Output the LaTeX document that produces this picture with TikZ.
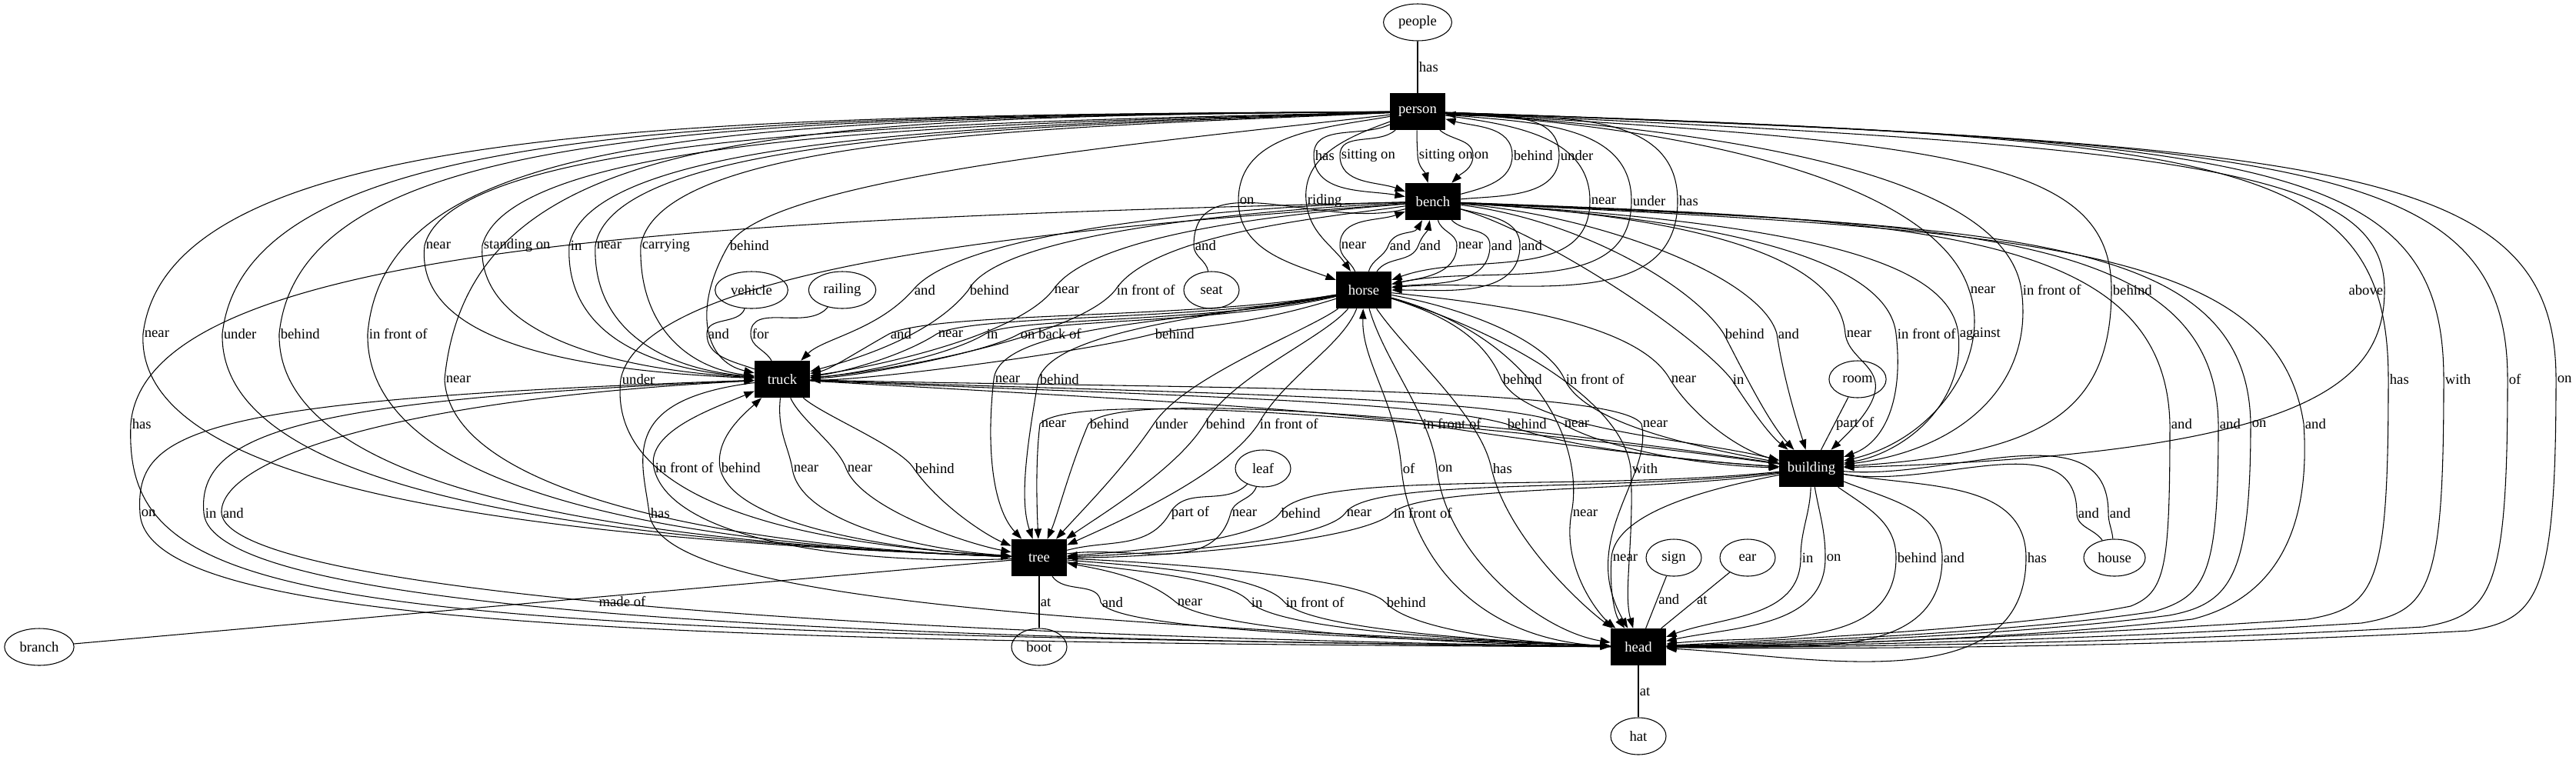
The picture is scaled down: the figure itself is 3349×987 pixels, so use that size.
\documentclass[tikz,border=0pt]{standalone}
\usepackage{fontspec}
\setmainfont{Liberation Serif}
\usetikzlibrary{shapes.geometric,arrows.meta}
\begin{document}
\begin{tikzpicture}[x=0.75bp,y=0.75bp,
  every node/.style={font=\fontsize{14bp}{16bp}\selectfont},
  bx/.style={rectangle,fill=black,text=white,minimum width=54bp,minimum height=36bp,inner xsep=8bp,inner ysep=2bp},
  el/.style={ellipse,draw,line width=0.8bp,minimum width=54bp,minimum height=36bp,inner sep=4.9bp},
  ar/.style={draw,line width=0.8bp,-{Triangle[length=10bp,width=7bp]}},
  ln/.style={draw,line width=0.8bp},
  lab/.style={right,inner sep=1bp,text=black}]
\useasboundingbox (0,0) rectangle (3349,-987);
% nodes
\node[el] (people) at (1843,-29) {people};
\node[bx] (person) at (1843,-145) {person};
\node[bx] (bench) at (1863,-262) {bench};
\node[bx] (horse) at (1773,-377) {horse};
\node[el] (seat) at (1575,-377) {seat};
\node[el] (vehicle) at (977,-377) {vehicle};
\node[el] (railing) at (1095,-377) {railing};
\node[bx] (truck) at (1017,-493) {truck};
\node[el] (room) at (2415,-493) {room};
\node[bx] (building) at (2355,-609) {building};
\node[el] (leaf) at (1642,-609) {leaf};
\node[bx] (tree) at (1351,-725) {tree};
\node[el] (sign) at (2176,-725) {sign};
\node[el] (ear) at (2272,-725) {ear};
\node[el] (house) at (2749,-725) {house};
\node[bx] (head) at (2130,-841) {head};
\node[el] (branch) at (51,-841) {branch};
\node[el] (boot) at (1351,-841) {boot};
\node[el] (hat) at (2130,-957) {hat};
% people - person
\draw[ln] (people) -- node[lab,pos=.5]{has} (person);
% person -> bench
\draw[ar] (person) to[out=205,in=90] (1708,-202) node[lab]{has} to[out=270,in=170] (bench);
\draw[ar] (person) to[out=220,in=90] (1742,-202) node[lab]{sitting on} to[out=270,in=160] (bench);
\draw[ar] (person) to[out=268,in=92] (1843,-202) node[lab]{sitting on} to[out=272,in=105] (bench);
\draw[ar] (person) to[out=-40,in=90] (1915,-202) node[lab]{on} to[out=270,in=45] (bench);
\draw[ar] (bench) to[out=15,in=270] (1966,-202) node[lab]{behind} to[out=90,in=-15] (person);
\draw[ar] (bench) to[out=5,in=270] (2027,-202) node[lab]{under} to[out=90,in=-5] (person);
% person -> horse
\draw[ar] (person) to[out=190,in=90] (1610,-261) node[lab]{on} to[out=270,in=160] (horse);
\draw[ar] (person) to[out=200,in=95] (1698,-261) node[lab]{riding} to[out=275,in=125] (horse);
\draw[ar] (person) to[out=-8,in=90] (2067,-261) node[lab]{near} to[out=270,in=20] (horse);
\draw[ar] (person) to[out=-6,in=90] (2121,-261) node[lab]{under} to[out=270,in=12] (horse);
\draw[ar] (person) to[out=-4,in=90] (2181,-261) node[lab]{has} to[out=270,in=5] (horse);
% person -> truck (left loops)
\draw[ar] (person) .. controls (1300,-158) and (592,-165) .. (552,-319) node[lab]{near} .. controls (540,-430) and (700,-480) .. (truck);
\draw[ar] (person) .. controls (1320,-160) and (667,-168) .. (627,-319) node[lab]{standing on} .. controls (620,-420) and (760,-478) .. (truck);
\draw[ar] (person) .. controls (1340,-162) and (770,-170) .. (740,-319) node[lab]{in} .. controls (735,-420) and (820,-478) .. (truck);
\draw[ar] (person) .. controls (1360,-164) and (800,-172) .. (774,-319) node[lab]{near} .. controls (770,-420) and (850,-478) .. (truck);
\draw[ar] (person) .. controls (1380,-166) and (860,-175) .. (833,-319) node[lab]{carrying} .. controls (830,-420) and (890,-478) .. (truck);
\draw[ar] (person) .. controls (1500,-185) and (1000,-230) .. (947,-319) node[lab]{behind} .. controls (900,-400) and (915,-470) .. (truck);
% person -> tree (far left loops)
\draw[ar] (person) .. controls (900,-150) and (220,-160) .. (186,-434) node[lab]{near} .. controls (175,-640) and (700,-700) .. (tree);
\draw[ar] (person) .. controls (920,-151) and (320,-162) .. (289,-434) node[lab]{under} .. controls (285,-640) and (760,-702) .. (tree);
\draw[ar] (person) .. controls (940,-152) and (390,-165) .. (363,-434) node[lab]{behind} .. controls (360,-640) and (820,-705) .. (tree);
\draw[ar] (person) .. controls (960,-153) and (500,-168) .. (478,-434) node[lab]{in front of} .. controls (475,-640) and (880,-708) .. (tree);
\draw[ar] (person) .. controls (1000,-152) and (610,-170) .. (578,-493) node[lab]{near} .. controls (585,-640) and (940,-710) .. (tree);
% bench -> tree
\draw[ar] (bench) .. controls (1500,-290) and (840,-330) .. (807,-493) node[lab]{under} .. controls (790,-640) and (1000,-705) .. (tree);
% horse -> tree
\draw[ar] (horse) .. controls (1550,-420) and (1300,-420) .. (1292,-493) node[lab]{near} .. controls (1282,-580) and (1290,-660) .. (tree);
\draw[ar] (horse) .. controls (1580,-410) and (1370,-430) .. (1350,-493) node[lab]{behind} .. controls (1335,-580) and (1325,-650) .. (tree);
\draw[ar] (horse) .. controls (1700,-430) and (1540,-490) .. (1500,-551) node[lab]{under} .. controls (1460,-610) and (1410,-660) .. (tree);
\draw[ar] (horse) .. controls (1720,-440) and (1600,-490) .. (1566,-551) node[lab]{behind} .. controls (1530,-610) and (1430,-670) .. (tree);
\draw[ar] (horse) .. controls (1745,-450) and (1670,-490) .. (1636,-551) node[lab]{in front of} .. controls (1590,-620) and (1450,-680) .. (tree);
% building -> tree (through 551)
\draw[ar] (building) .. controls (2000,-560) and (1400,-500) .. (1352,-551) node[lab]{near} .. controls (1346,-600) and (1348,-660) .. (tree);
\draw[ar] (building) .. controls (2000,-555) and (1460,-500) .. (1415,-551) node[lab]{behind} .. controls (1390,-610) and (1375,-670) .. (tree);
% bench -> truck
\draw[ar] (bench) .. controls (1600,-268) and (1250,-300) .. (1187,-377) node[lab]{and} .. controls (1140,-430) and (1070,-440) .. (truck);
\draw[ar] (bench) .. controls (1650,-272) and (1300,-300) .. (1259,-377) node[lab]{behind} .. controls (1210,-440) and (1100,-470) .. (truck);
\draw[ar] (bench) .. controls (1700,-276) and (1420,-300) .. (1369,-377) node[lab]{near} .. controls (1320,-440) and (1120,-480) .. (truck);
\draw[ar] (bench) .. controls (1750,-280) and (1500,-300) .. (1450,-377) node[lab]{in front of} .. controls (1400,-440) and (1140,-485) .. (truck);
% horse -> truck
\draw[ar] (horse) .. controls (1550,-415) and (1220,-405) .. (1156,-434) node[lab]{and} .. controls (1110,-460) and (1080,-480) .. (truck);
\draw[ar] (horse) .. controls (1560,-418) and (1270,-408) .. (1218,-434) node[lab]{near} .. controls (1170,-465) and (1090,-485) .. (truck);
\draw[ar] (horse) .. controls (1570,-420) and (1320,-412) .. (1281,-434) node[lab]{in} .. controls (1230,-465) and (1100,-488) .. (truck);
\draw[ar] (horse) .. controls (1580,-422) and (1360,-414) .. (1325,-434) node[lab]{on back of} .. controls (1280,-460) and (1110,-490) .. (truck);
\draw[ar] (horse) .. controls (1620,-425) and (1540,-425) .. (1500,-434) node[lab]{behind} .. controls (1400,-460) and (1120,-495) .. (truck);
% attribute nodes near truck / bench
\draw[ln] (vehicle) to[out=250,in=90] (919,-434) node[lab]{and} to[out=270,in=160] (truck);
\draw[ln] (railing) to[out=230,in=90] (976,-434) node[lab]{for} to[out=270,in=120] (truck);
\draw[ln] (seat) to[out=100,in=270] (1552,-319) node[lab]{and} to[out=90,in=195] (bench);
% bench <-> horse
\draw[ar] (horse) to[out=115,in=270] (1742,-319) node[lab]{near} to[out=90,in=200] (bench);
\draw[ar] (horse) to[out=75,in=250] (1805,-319) node[lab]{and} to[out=70,in=240] (bench);
\draw[ar] (horse) to[out=55,in=250] (1844,-319) node[lab]{and} to[out=70,in=260] (bench);
\draw[ar] (bench) to[out=-75,in=90] (1894,-319) node[lab]{near} to[out=270,in=12] (horse);
\draw[ar] (bench) to[out=-45,in=90] (1937,-319) node[lab]{and} to[out=270,in=6] (horse);
\draw[ar] (bench) to[out=-15,in=90] (1976,-319) node[lab]{and} to[out=270,in=0] (horse);
% bench -> building
\draw[ar] (bench) .. controls (2050,-285) and (2200,-370) .. (2241,-434) node[lab]{behind} .. controls (2270,-490) and (2300,-550) .. (building);
\draw[ar] (bench) .. controls (2080,-280) and (2290,-360) .. (2310,-434) node[lab]{and} .. controls (2320,-500) and (2340,-560) .. (building);
\draw[ar] (bench) .. controls (2150,-278) and (2390,-320) .. (2399,-434) node[lab]{near} .. controls (2405,-480) and (2490,-480) .. (building);
\draw[ar] (bench) .. controls (2250,-285) and (2455,-340) .. (2465,-434) node[lab]{in front of} .. controls (2475,-520) and (2450,-575) .. (building);
\draw[ar] (bench) .. controls (2350,-290) and (2535,-340) .. (2546,-434) node[lab]{against} .. controls (2555,-530) and (2470,-590) .. (building);
\draw[ar] (bench) .. controls (2000,-300) and (2200,-430) .. (2251,-493) node[lab]{in} .. controls (2275,-530) and (2300,-565) .. (building);
% bench -> head (right)
\draw[ar] (bench) .. controls (2500,-285) and (2815,-300) .. (2821,-551) node[lab]{and} .. controls (2821,-740) and (2815,-770) .. (2770,-788) .. controls (2650,-812) and (2400,-828) .. (head);
\draw[ar] (bench) .. controls (2550,-290) and (2880,-300) .. (2884,-551) node[lab]{and} .. controls (2884,-745) and (2870,-775) .. (2800,-795) .. controls (2650,-818) and (2400,-832) .. (head);
\draw[ar] (bench) .. controls (2600,-295) and (2922,-300) .. (2926,-551) node[lab]{on} .. controls (2926,-750) and (2900,-785) .. (2820,-800) .. controls (2650,-822) and (2400,-835) .. (head);
\draw[ar] (bench) .. controls (2650,-300) and (2960,-320) .. (2995,-551) node[lab]{and} .. controls (3005,-700) and (2950,-780) .. (2850,-805) .. controls (2650,-828) and (2400,-838) .. (head);
% person -> building (right)
\draw[ar] (person) .. controls (2250,-170) and (2520,-250) .. (2560,-377) node[lab]{near} .. controls (2590,-460) and (2520,-570) .. (building);
\draw[ar] (person) .. controls (2350,-175) and (2610,-250) .. (2628,-377) node[lab]{in front of} .. controls (2645,-500) and (2550,-585) .. (building);
\draw[ar] (person) .. controls (2550,-185) and (2745,-210) .. (2745,-377) node[lab]{behind} .. controls (2745,-540) and (2650,-590) .. (building);
\draw[ar] (person) .. controls (2850,-190) and (3100,-220) .. (3100,-377) node[lab,left]{above} .. controls (3100,-500) and (3000,-590) .. (building);
% person -> head (right loops)
\draw[ar] (person) .. controls (2900,-180) and (3105,-200) .. (3105,-493) node[lab]{has} .. controls (3105,-760) and (3090,-790) .. (3000,-805) .. controls (2700,-825) and (2400,-838) .. (head);
\draw[ar] (person) .. controls (2950,-182) and (3177,-205) .. (3177,-493) node[lab]{with} .. controls (3177,-765) and (3160,-795) .. (3070,-810) .. controls (2750,-830) and (2400,-840) .. (head);
\draw[ar] (person) .. controls (3000,-185) and (3260,-210) .. (3260,-493) node[lab]{of} .. controls (3260,-770) and (3240,-800) .. (3150,-815) .. controls (2800,-835) and (2400,-842) .. (head);
\draw[ar] (person) .. controls (3050,-188) and (3323,-215) .. (3323,-493) node[lab]{on} .. controls (3323,-775) and (3300,-805) .. (3210,-820) .. controls (2850,-840) and (2400,-845) .. (head);
% horse -> building
\draw[ar] (horse) .. controls (1880,-410) and (1930,-440) .. (1952,-493) node[lab]{behind} .. controls (1985,-560) and (2200,-570) .. (building);
\draw[ar] (horse) .. controls (1900,-400) and (2010,-440) .. (2034,-493) node[lab]{in front of} .. controls (2060,-550) and (2200,-580) .. (building);
\draw[ar] (horse) .. controls (1950,-395) and (2130,-420) .. (2171,-493) node[lab]{near} .. controls (2200,-540) and (2260,-585) .. (building);
% truck -> building
\draw[ar] (truck) .. controls (1400,-515) and (1700,-530) .. (1848,-551) node[lab]{in front of} .. controls (2000,-575) and (2200,-600) .. (building);
\draw[ar] (truck) .. controls (1450,-512) and (1850,-520) .. (1958,-551) node[lab]{behind} .. controls (2020,-580) and (2200,-600) .. (building);
\draw[ar] (truck) .. controls (1500,-510) and (1950,-515) .. (2032,-551) node[lab]{near} .. controls (2080,-580) and (2200,-605) .. (building);
% truck -> head
\draw[ar] (truck) .. controls (1500,-505) and (2100,-500) .. (2134,-551) node[lab]{near} .. controls (2150,-620) and (2050,-700) .. (head);
\draw[ar] (truck) .. controls (800,-520) and (836,-600) .. (844,-667) node[lab]{has} .. controls (855,-760) and (1200,-805) .. (head);
% tree -> truck, truck -> tree
\draw[ar] (tree) .. controls (1100,-735) and (870,-700) .. (850,-608) node[lab]{in front of} .. controls (840,-560) and (930,-530) .. (truck);
\draw[ar] (tree) .. controls (1150,-715) and (950,-680) .. (936,-608) node[lab]{behind} .. controls (930,-570) and (965,-540) .. (truck);
\draw[ar] (truck) .. controls (1010,-560) and (1025,-580) .. (1030,-609) node[lab]{near} .. controls (1040,-680) and (1200,-715) .. (tree);
\draw[ar] (truck) .. controls (1040,-545) and (1090,-580) .. (1100,-609) node[lab]{near} .. controls (1120,-660) and (1250,-705) .. (tree);
\draw[ar] (truck) .. controls (1070,-540) and (1170,-580) .. (1188,-609) node[lab]{behind} .. controls (1220,-655) and (1280,-695) .. (tree);
% horse <-> head
\draw[ar] (head) .. controls (1900,-835) and (1830,-700) .. (1822,-609) node[lab]{of} .. controls (1815,-520) and (1770,-470) .. (horse);
\draw[ar] (horse) .. controls (1800,-470) and (1860,-540) .. (1868,-609) node[lab]{on} .. controls (1880,-720) and (2000,-820) .. (head);
\draw[ar] (horse) .. controls (1830,-460) and (1925,-540) .. (1939,-609) node[lab]{has} .. controls (1960,-700) and (2060,-790) .. (head);
\draw[ar] (horse) .. controls (1950,-430) and (2110,-520) .. (2120,-609) node[lab]{with} .. controls (2125,-700) and (2110,-770) .. (head);
\draw[ar] (horse) .. controls (2000,-440) and (2060,-580) .. (2043,-667) node[lab]{near} .. controls (2030,-740) and (2080,-800) .. (head);
% bench -> head (left loop)
\draw[ar] (bench) .. controls (900,-285) and (190,-320) .. (170,-551) node[lab]{has} .. controls (160,-790) and (400,-820) .. (head);
% head -> truck (left loops)
\draw[ar] (head) .. controls (800,-835) and (190,-810) .. (182,-667) node[lab]{on} .. controls (175,-560) and (250,-520) .. (truck);
\draw[ar] (head) .. controls (900,-830) and (275,-780) .. (265,-667) node[lab]{in} .. controls (255,-560) and (400,-520) .. (truck);
\draw[ar] (head) .. controls (1000,-825) and (295,-760) .. (288,-667) node[lab]{and} .. controls (285,-600) and (500,-520) .. (truck);
% leaf - tree
\draw[ln] (leaf) to[out=225,in=60] (1521,-667) node[lab]{part of} to[out=240,in=15] (tree);
\draw[ln] (leaf) to[out=250,in=75] (1600,-667) node[lab]{near} to[out=255,in=8] (tree);
% building -> tree
\draw[ar] (building) .. controls (2050,-640) and (1700,-610) .. (1664,-667) node[lab]{behind} .. controls (1640,-700) and (1500,-715) .. (tree);
\draw[ar] (building) .. controls (2100,-640) and (1780,-620) .. (1749,-667) node[lab]{near} .. controls (1720,-705) and (1500,-720) .. (tree);
\draw[ar] (building) .. controls (2150,-640) and (1850,-630) .. (1810,-667) node[lab]{in front of} .. controls (1770,-705) and (1500,-725) .. (tree);
% house, room - building
\draw[ln] (house) to[out=125,in=270] (2700,-667) node[lab]{and} to[out=90,in=-10] (building);
\draw[ln] (house) to[out=95,in=270] (2741,-667) node[lab]{and} to[out=90,in=-5] (building);
\draw[ln] (room) -- node[lab,pos=.5]{part of} (building);
% building -> head
\draw[ar] (building) .. controls (2250,-630) and (2100,-660) .. (2095,-725) node[lab]{near} .. controls (2092,-770) and (2100,-800) .. (head);
\draw[ar] (building) to[out=268,in=90] (2341,-725) node[lab]{in} to[out=270,in=20] (head);
\draw[ar] (building) to[out=280,in=90] (2373,-725) node[lab]{on} to[out=270,in=12] (head);
\draw[ar] (building) to[out=-35,in=90] (2465,-725) node[lab]{behind} to[out=270,in=6] (head);
\draw[ar] (building) to[out=-22,in=90] (2525,-725) node[lab]{and} to[out=270,in=2] (head);
\draw[ar] (building) to[out=-10,in=90] (2634,-725) node[lab]{has} to[out=270,in=-3] (head);
% sign, ear, hat - head
\draw[ln] (sign) -- node[lab,pos=.45]{and} (head);
\draw[ln] (ear) -- node[lab,pos=.5]{at} (head);
\draw[ln] (head) -- node[lab,pos=.5]{at} (hat);
% branch, boot - tree
\draw[ln] (branch) -- node[lab,pos=.585,below]{made of} (tree);
\draw[ln] (tree) -- node[lab,pos=.5]{at} (boot);
% tree <-> head
\draw[ar] (tree) to[out=-55,in=95] (1431,-783) node[lab]{and} .. controls (1450,-820) and (1800,-830) .. (head);
\draw[ar] (head) .. controls (1800,-835) and (1570,-815) .. (1529,-783) node[lab]{near} .. controls (1490,-750) and (1430,-740) .. (tree);
\draw[ar] (tree) .. controls (1450,-740) and (1600,-750) .. (1625,-783) node[lab]{in} .. controls (1660,-815) and (1850,-830) .. (head);
\draw[ar] (tree) .. controls (1470,-735) and (1640,-745) .. (1670,-783) node[lab]{in front of} .. controls (1700,-815) and (1900,-832) .. (head);
\draw[ar] (tree) .. controls (1500,-730) and (1770,-750) .. (1801,-783) node[lab]{behind} .. controls (1830,-815) and (1950,-835) .. (head);
\end{tikzpicture}
\end{document}
